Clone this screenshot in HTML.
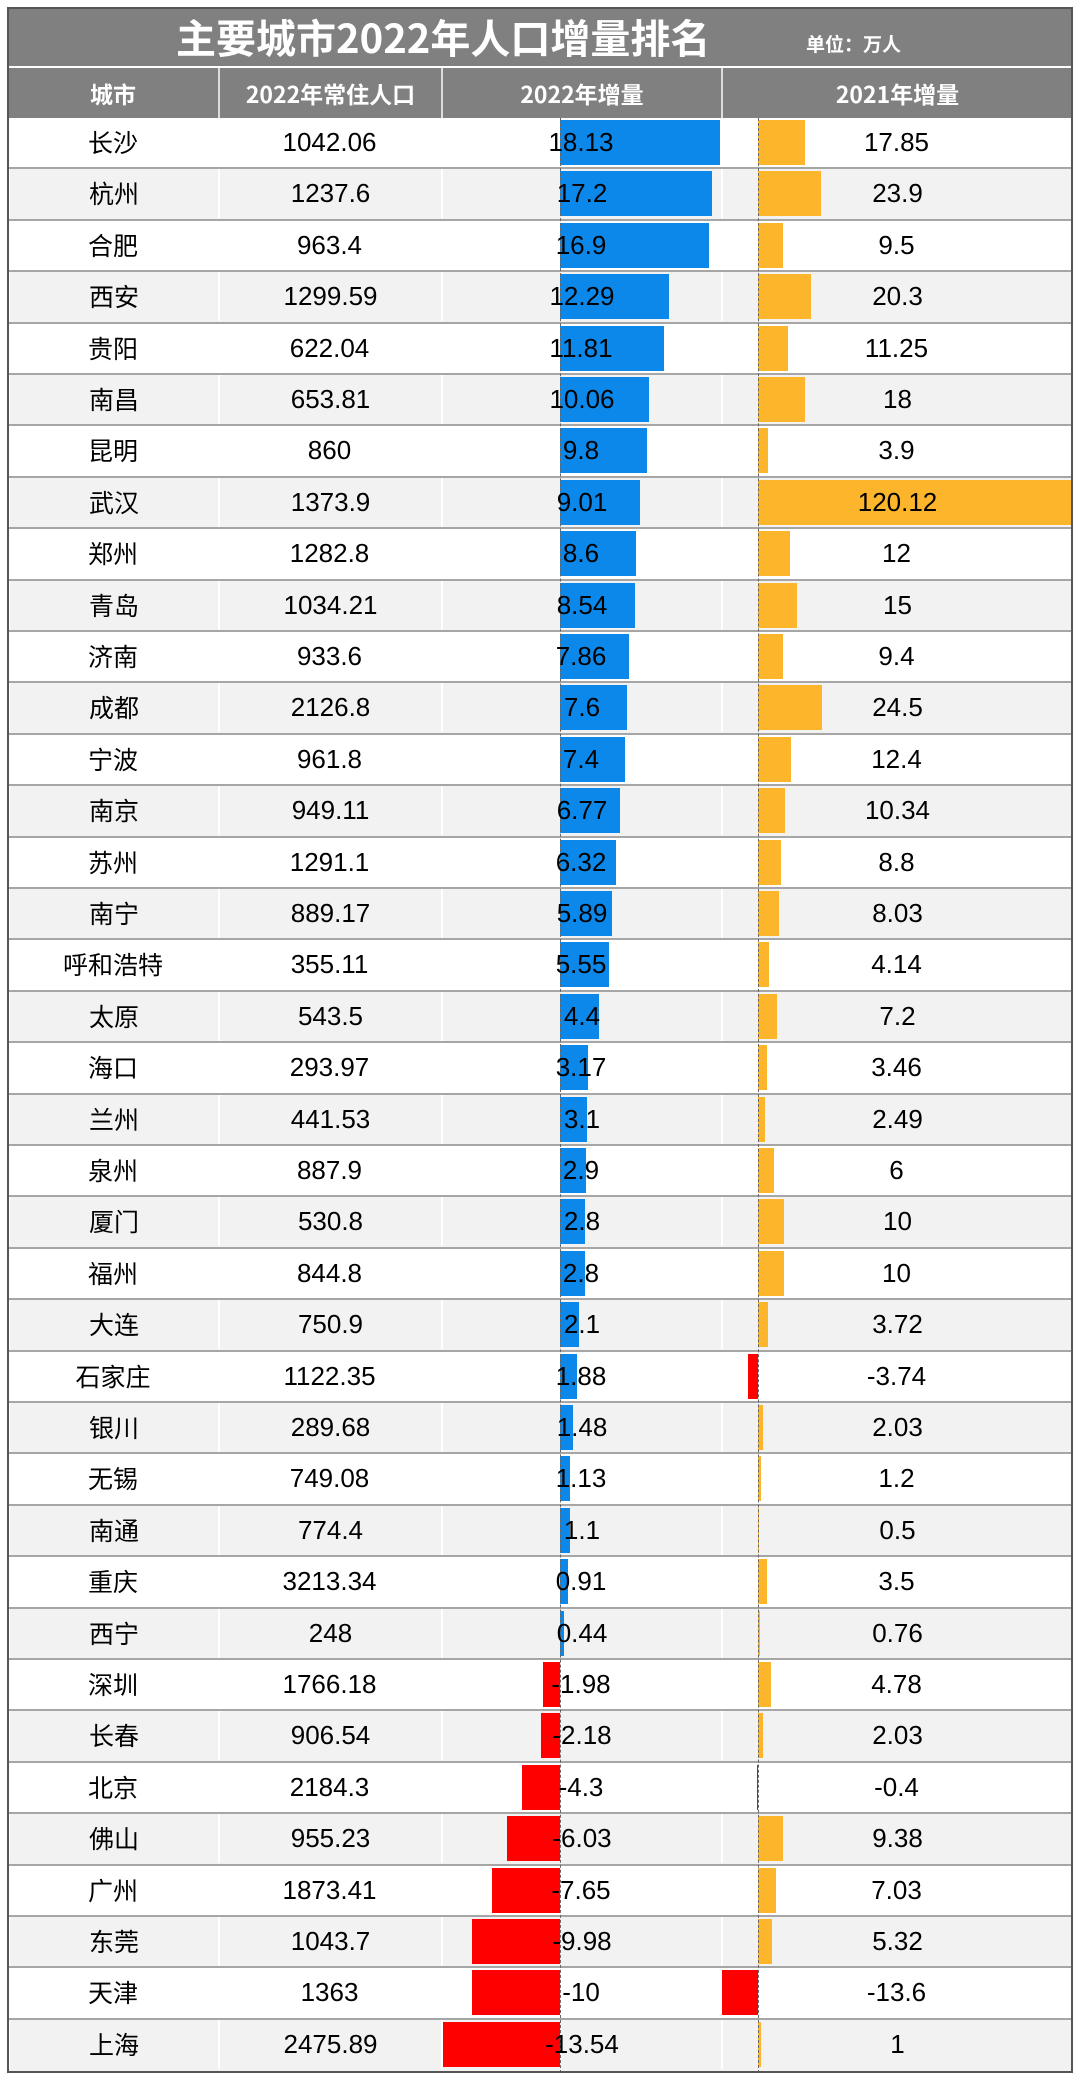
<!DOCTYPE html>
<html><head><meta charset="utf-8"><style>
body{margin:0;width:1080px;height:2081px;background:#fff;position:relative;font-family:"Liberation Sans","Noto Sans CJK SC",sans-serif;overflow:hidden}
.frame{position:absolute;left:7px;top:7px;width:1066px;height:2066px;border:2px solid #555;box-sizing:border-box}
.title{position:absolute;left:8px;top:8px;width:1064px;height:58px;background:#808080;color:#fff;font-weight:bold}
.title .t{position:absolute;left:168px;top:4px;font-size:40px;line-height:48px;font-family:"Noto Sans CJK SC",sans-serif}
.title .u{position:absolute;left:798px;top:22px;font-size:19px;font-family:"Noto Sans CJK SC",sans-serif}
.hdr{position:absolute;left:8px;top:68px;width:1064px;height:50px;background:#808080;color:#fff;font-weight:bold;font-size:23px;font-family:"Noto Sans CJK SC",sans-serif}
.hdr div{position:absolute;top:0;height:50px;line-height:50px;text-align:center;border-left:2px solid #ddd;box-sizing:border-box}
.r{position:absolute;left:8px;width:1064px;height:51.4px;border-bottom:2px solid #a6a6a6;box-sizing:border-box;font-size:26px}
.r.g{background:#f2f2f2}
.r .c{position:absolute;top:0;height:49px;line-height:49px;text-align:center;box-sizing:border-box}
.r.g .c{border-left:2px solid #fff}
.c1{left:0;width:210px}.c2{left:210px;width:223px}.c3{left:433px;width:280px}.c4{left:713px;width:351px}
.b,.n,.o,.m{position:absolute;top:2px;height:45px}
.b{background:#0b88ea}.n{background:#ff0000}.o{background:#fdb52b}.m{background:#ff0000}
.ax{position:absolute;top:118px;height:1955px;border-left:1px dashed #666}
.txt{position:relative;z-index:2}
.cn{font-family:"Noto Sans CJK SC",sans-serif;font-size:25px}
</style></head><body>
<div class="title"><span class="t">主要城市2022年人口增量排名</span><span class="u">单位：万人</span></div>
<div class="hdr"><div style="left:0;width:210px;border-left:none">城市</div><div style="left:210px;width:223px">2022年常住人口</div><div style="left:433px;width:280px">2022年增量</div><div style="left:713px;width:351px">2021年增量</div></div>
<div id="rows">
<div class="r" style="top:118px"><div class="c c1 cn">长沙</div><div class="c c2">1042.06</div><div class="b" style="left:552px;width:160px"></div><div class="o" style="left:750px;width:47px"></div><div class="c c3 txt">18.13</div><div class="c c4 txt">17.85</div></div>
<div class="r g" style="top:169.4px"><div class="c c1 cn">杭州</div><div class="c c2">1237.6</div><div class="b" style="left:552px;width:152px"></div><div class="o" style="left:750px;width:63px"></div><div class="c c3 txt">17.2</div><div class="c c4 txt">23.9</div></div>
<div class="r" style="top:220.8px"><div class="c c1 cn">合肥</div><div class="c c2">963.4</div><div class="b" style="left:552px;width:149px"></div><div class="o" style="left:750px;width:25px"></div><div class="c c3 txt">16.9</div><div class="c c4 txt">9.5</div></div>
<div class="r g" style="top:272.2px"><div class="c c1 cn">西安</div><div class="c c2">1299.59</div><div class="b" style="left:552px;width:109px"></div><div class="o" style="left:750px;width:53px"></div><div class="c c3 txt">12.29</div><div class="c c4 txt">20.3</div></div>
<div class="r" style="top:323.6px"><div class="c c1 cn">贵阳</div><div class="c c2">622.04</div><div class="b" style="left:552px;width:104px"></div><div class="o" style="left:750px;width:30px"></div><div class="c c3 txt">11.81</div><div class="c c4 txt">11.25</div></div>
<div class="r g" style="top:375px"><div class="c c1 cn">南昌</div><div class="c c2">653.81</div><div class="b" style="left:552px;width:89px"></div><div class="o" style="left:750px;width:47px"></div><div class="c c3 txt">10.06</div><div class="c c4 txt">18</div></div>
<div class="r" style="top:426.4px"><div class="c c1 cn">昆明</div><div class="c c2">860</div><div class="b" style="left:552px;width:87px"></div><div class="o" style="left:750px;width:10px"></div><div class="c c3 txt">9.8</div><div class="c c4 txt">3.9</div></div>
<div class="r g" style="top:477.8px"><div class="c c1 cn">武汉</div><div class="c c2">1373.9</div><div class="b" style="left:552px;width:80px"></div><div class="o" style="left:750px;width:314px"></div><div class="c c3 txt">9.01</div><div class="c c4 txt">120.12</div></div>
<div class="r" style="top:529.2px"><div class="c c1 cn">郑州</div><div class="c c2">1282.8</div><div class="b" style="left:552px;width:76px"></div><div class="o" style="left:750px;width:32px"></div><div class="c c3 txt">8.6</div><div class="c c4 txt">12</div></div>
<div class="r g" style="top:580.6px"><div class="c c1 cn">青岛</div><div class="c c2">1034.21</div><div class="b" style="left:552px;width:75px"></div><div class="o" style="left:750px;width:39px"></div><div class="c c3 txt">8.54</div><div class="c c4 txt">15</div></div>
<div class="r" style="top:632px"><div class="c c1 cn">济南</div><div class="c c2">933.6</div><div class="b" style="left:552px;width:69px"></div><div class="o" style="left:750px;width:25px"></div><div class="c c3 txt">7.86</div><div class="c c4 txt">9.4</div></div>
<div class="r g" style="top:683.4px"><div class="c c1 cn">成都</div><div class="c c2">2126.8</div><div class="b" style="left:552px;width:67px"></div><div class="o" style="left:750px;width:64px"></div><div class="c c3 txt">7.6</div><div class="c c4 txt">24.5</div></div>
<div class="r" style="top:734.8px"><div class="c c1 cn">宁波</div><div class="c c2">961.8</div><div class="b" style="left:552px;width:65px"></div><div class="o" style="left:750px;width:33px"></div><div class="c c3 txt">7.4</div><div class="c c4 txt">12.4</div></div>
<div class="r g" style="top:786.2px"><div class="c c1 cn">南京</div><div class="c c2">949.11</div><div class="b" style="left:552px;width:60px"></div><div class="o" style="left:750px;width:27px"></div><div class="c c3 txt">6.77</div><div class="c c4 txt">10.34</div></div>
<div class="r" style="top:837.6px"><div class="c c1 cn">苏州</div><div class="c c2">1291.1</div><div class="b" style="left:552px;width:56px"></div><div class="o" style="left:750px;width:23px"></div><div class="c c3 txt">6.32</div><div class="c c4 txt">8.8</div></div>
<div class="r g" style="top:889px"><div class="c c1 cn">南宁</div><div class="c c2">889.17</div><div class="b" style="left:552px;width:52px"></div><div class="o" style="left:750px;width:21px"></div><div class="c c3 txt">5.89</div><div class="c c4 txt">8.03</div></div>
<div class="r" style="top:940.4px"><div class="c c1 cn">呼和浩特</div><div class="c c2">355.11</div><div class="b" style="left:552px;width:49px"></div><div class="o" style="left:750px;width:11px"></div><div class="c c3 txt">5.55</div><div class="c c4 txt">4.14</div></div>
<div class="r g" style="top:991.8px"><div class="c c1 cn">太原</div><div class="c c2">543.5</div><div class="b" style="left:552px;width:39px"></div><div class="o" style="left:750px;width:19px"></div><div class="c c3 txt">4.4</div><div class="c c4 txt">7.2</div></div>
<div class="r" style="top:1043.2px"><div class="c c1 cn">海口</div><div class="c c2">293.97</div><div class="b" style="left:552px;width:28px"></div><div class="o" style="left:750px;width:9px"></div><div class="c c3 txt">3.17</div><div class="c c4 txt">3.46</div></div>
<div class="r g" style="top:1094.6px"><div class="c c1 cn">兰州</div><div class="c c2">441.53</div><div class="b" style="left:552px;width:27px"></div><div class="o" style="left:750px;width:7px"></div><div class="c c3 txt">3.1</div><div class="c c4 txt">2.49</div></div>
<div class="r" style="top:1146px"><div class="c c1 cn">泉州</div><div class="c c2">887.9</div><div class="b" style="left:552px;width:26px"></div><div class="o" style="left:750px;width:16px"></div><div class="c c3 txt">2.9</div><div class="c c4 txt">6</div></div>
<div class="r g" style="top:1197.4px"><div class="c c1 cn">厦门</div><div class="c c2">530.8</div><div class="b" style="left:552px;width:25px"></div><div class="o" style="left:750px;width:26px"></div><div class="c c3 txt">2.8</div><div class="c c4 txt">10</div></div>
<div class="r" style="top:1248.8px"><div class="c c1 cn">福州</div><div class="c c2">844.8</div><div class="b" style="left:552px;width:25px"></div><div class="o" style="left:750px;width:26px"></div><div class="c c3 txt">2.8</div><div class="c c4 txt">10</div></div>
<div class="r g" style="top:1300.2px"><div class="c c1 cn">大连</div><div class="c c2">750.9</div><div class="b" style="left:552px;width:19px"></div><div class="o" style="left:750px;width:10px"></div><div class="c c3 txt">2.1</div><div class="c c4 txt">3.72</div></div>
<div class="r" style="top:1351.6px"><div class="c c1 cn">石家庄</div><div class="c c2">1122.35</div><div class="b" style="left:552px;width:17px"></div><div class="m" style="left:740px;width:10px"></div><div class="c c3 txt">1.88</div><div class="c c4 txt">-3.74</div></div>
<div class="r g" style="top:1403px"><div class="c c1 cn">银川</div><div class="c c2">289.68</div><div class="b" style="left:552px;width:13px"></div><div class="o" style="left:750px;width:5px"></div><div class="c c3 txt">1.48</div><div class="c c4 txt">2.03</div></div>
<div class="r" style="top:1454.4px"><div class="c c1 cn">无锡</div><div class="c c2">749.08</div><div class="b" style="left:552px;width:10px"></div><div class="o" style="left:750px;width:3px"></div><div class="c c3 txt">1.13</div><div class="c c4 txt">1.2</div></div>
<div class="r g" style="top:1505.8px"><div class="c c1 cn">南通</div><div class="c c2">774.4</div><div class="b" style="left:552px;width:10px"></div><div class="o" style="left:750px;width:1px"></div><div class="c c3 txt">1.1</div><div class="c c4 txt">0.5</div></div>
<div class="r" style="top:1557.2px"><div class="c c1 cn">重庆</div><div class="c c2">3213.34</div><div class="b" style="left:552px;width:8px"></div><div class="o" style="left:750px;width:9px"></div><div class="c c3 txt">0.91</div><div class="c c4 txt">3.5</div></div>
<div class="r g" style="top:1608.6px"><div class="c c1 cn">西宁</div><div class="c c2">248</div><div class="b" style="left:552px;width:4px"></div><div class="o" style="left:750px;width:2px"></div><div class="c c3 txt">0.44</div><div class="c c4 txt">0.76</div></div>
<div class="r" style="top:1660px"><div class="c c1 cn">深圳</div><div class="c c2">1766.18</div><div class="n" style="left:535px;width:17px"></div><div class="o" style="left:750px;width:13px"></div><div class="c c3 txt">-1.98</div><div class="c c4 txt">4.78</div></div>
<div class="r g" style="top:1711.4px"><div class="c c1 cn">长春</div><div class="c c2">906.54</div><div class="n" style="left:533px;width:19px"></div><div class="o" style="left:750px;width:5px"></div><div class="c c3 txt">-2.18</div><div class="c c4 txt">2.03</div></div>
<div class="r" style="top:1762.8px"><div class="c c1 cn">北京</div><div class="c c2">2184.3</div><div class="n" style="left:514px;width:38px"></div><div class="m" style="left:749px;width:1px"></div><div class="c c3 txt">-4.3</div><div class="c c4 txt">-0.4</div></div>
<div class="r g" style="top:1814.2px"><div class="c c1 cn">佛山</div><div class="c c2">955.23</div><div class="n" style="left:499px;width:53px"></div><div class="o" style="left:750px;width:25px"></div><div class="c c3 txt">-6.03</div><div class="c c4 txt">9.38</div></div>
<div class="r" style="top:1865.6px"><div class="c c1 cn">广州</div><div class="c c2">1873.41</div><div class="n" style="left:484px;width:68px"></div><div class="o" style="left:750px;width:18px"></div><div class="c c3 txt">-7.65</div><div class="c c4 txt">7.03</div></div>
<div class="r g" style="top:1917px"><div class="c c1 cn">东莞</div><div class="c c2">1043.7</div><div class="n" style="left:464px;width:88px"></div><div class="o" style="left:750px;width:14px"></div><div class="c c3 txt">-9.98</div><div class="c c4 txt">5.32</div></div>
<div class="r" style="top:1968.4px"><div class="c c1 cn">天津</div><div class="c c2">1363</div><div class="n" style="left:464px;width:88px"></div><div class="m" style="left:714px;width:36px"></div><div class="c c3 txt">-10</div><div class="c c4 txt">-13.6</div></div>
<div class="r g" style="top:2019.8px;height:53px"><div class="c c1 cn">上海</div><div class="c c2">2475.89</div><div class="n" style="left:434px;width:118px"></div><div class="o" style="left:750px;width:3px"></div><div class="c c3 txt">-13.54</div><div class="c c4 txt">1</div></div>
</div>
<div class="ax" style="left:560px"></div>
<div class="ax" style="left:758px"></div>
<div class="frame"></div>
</body></html>
